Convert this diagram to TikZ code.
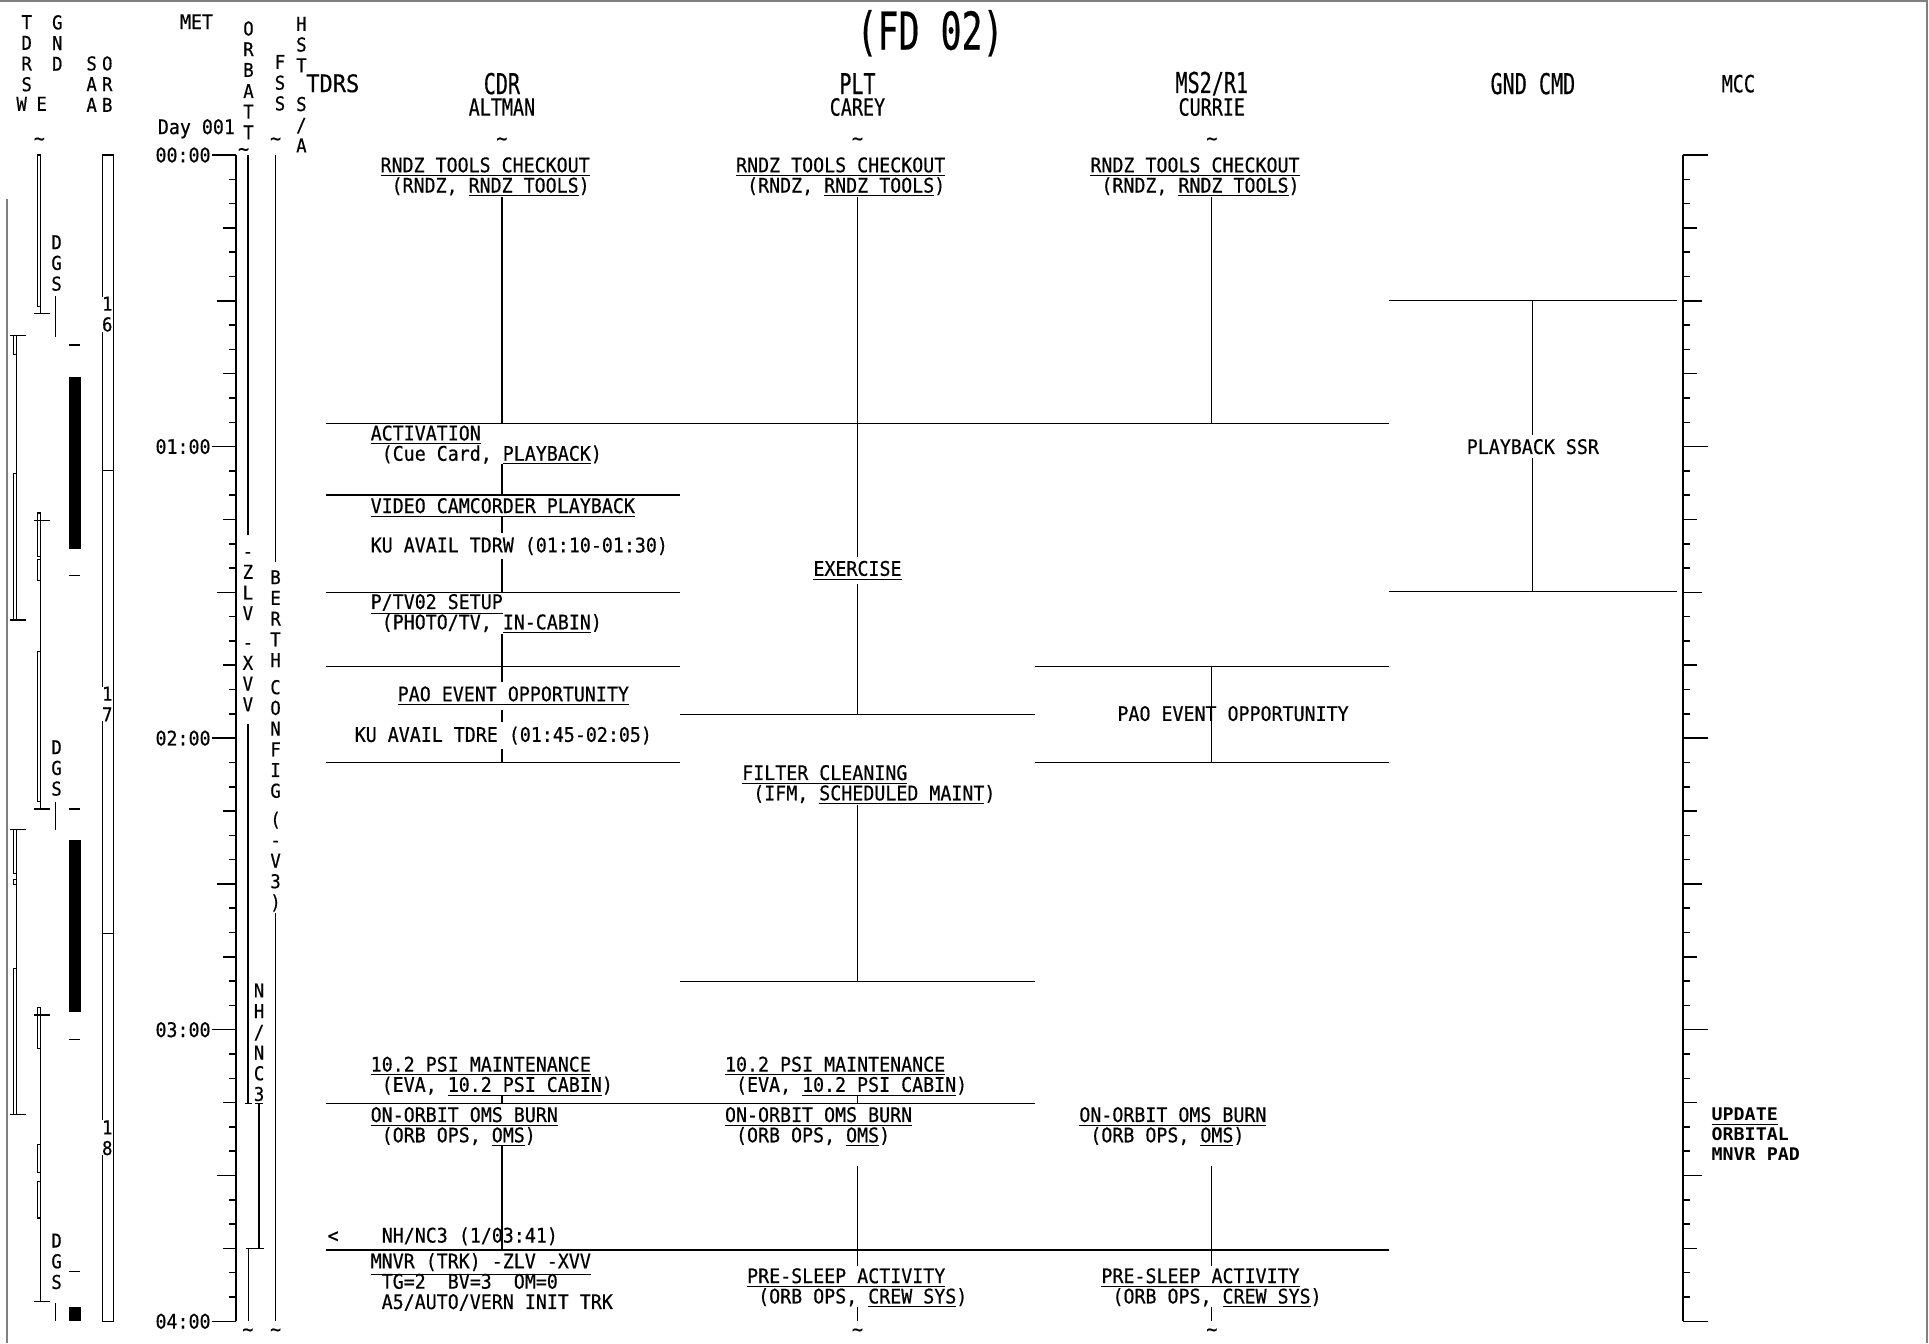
\documentclass[tikz,border=0pt]{standalone}
\usepackage{fontspec}
\usetikzlibrary{positioning}
\newfontfamily\bodyfont{DejaVu Sans Mono}[FakeStretch=0.91,FakeBold=0.5]
\newfontfamily\headfont{DejaVu Sans Mono}[FakeStretch=0.70,FakeBold=0.4]
\newfontfamily\namefont{DejaVu Sans Mono}[FakeStretch=0.78,FakeBold=0.4]
\newfontfamily\titlefont{DejaVu Sans Mono}[FakeStretch=0.67,FakeBold=0.4]
\newfontfamily\padfont{DejaVu Sans Mono}[FakeStretch=1.05]
\newcommand{\fbody}{\bodyfont\fontsize{9.8pt}{9.9pt}\selectfont}
\newcommand{\fvert}{\bodyfont\fontsize{9.3pt}{10.1pt}\selectfont}
\newcommand{\fhead}{\headfont\fontsize{14pt}{14pt}\selectfont}
\newcommand{\fname}{\namefont\fontsize{11.5pt}{12pt}\selectfont}
\newcommand{\ftdrs}{\bodyfont\fontsize{11.8pt}{12pt}\selectfont}
\newcommand{\ftitle}{\titlefont\fontsize{25.4pt}{26pt}\selectfont}
\newcommand{\fpad}{\padfont\bfseries\fontsize{8.5pt}{9.6pt}\selectfont}
\newcommand{\ul}[1]{\underline{#1}}
\newcommand{\sq}{\textasciitilde}
% activity: name, x, baseline y, first line, second line
\newcommand{\act}[5]{\node[txt] (#1) at (#2,#3) {#4};
  \node[txt] (#1s) at ([xshift=5.37pt,yshift=-9.9pt]#1.base west) {#5}}
\newcommand{\orbtick}[3]{\draw[strip] (#1,#3) -- (#2,#3)}

\begin{document}
\begin{tikzpicture}[x=0.6pt,y=-0.6pt,
    txt/.style={inner sep=0pt,font=\fbody,anchor=base west},
    txtw/.style={txt,fill=white,inner xsep=1pt,inner ysep=2pt,xshift=-1pt},
    vlab/.style={inner sep=0pt,font=\fvert,anchor=north,align=center},
    hourlab/.style={inner sep=0pt,font=\fbody,anchor=east},
    squig/.style={inner sep=0pt,font=\fbody},
    actline/.style={line width=0.55pt},
    axisline/.style={line width=0.75pt},
    strip/.style={line width=0.55pt},
    frame/.style={draw=gray,line width=1pt}]
\useasboundingbox (0,0) rectangle (1568,1092);

\draw[frame] (0,1) -- (1566.5,1) -- (1566.5,1092);
\draw[frame] (6,162) -- (6,1092);

% headings
\node[font=\ftitle] (fd) at (756,27) {(FD 02)};
\node[font=\fhead] (cdr) at (408,68) {CDR};
\node[font=\fname] (cdrn) at (408,87) {ALTMAN};
\node[font=\fhead] (plt) at (697,68) {PLT};
\node[font=\fname] (pltn) at (697,87) {CAREY};
\node[font=\fhead] (ms) at (985,68) {MS2/R1};
\node[font=\fname] (msn) at (985,87) {CURRIE};
\node[font=\fhead] (gnd) at (1246,68) {GND CMD};
\node[font=\fname] (mcc) at (1413,68) {MCC};
\node[font=\ftdrs,inner sep=0pt] (tdrs) at (270.5,67.7) {TDRS};
\node[txt] (met) at (146,23.6) {MET};
\node[txt] (day) at (128,109) {Day 001};

\node[vlab] (hw) at (21.7,12) {T\\D\\R\\S};
\node[vlab] (hw2) at (17.6,78.4) {W};
\node[vlab] (he) at (33.9,78.4) {E};
\node[vlab] (hg) at (46.6,12) {G\\N\\D};
\node[vlab] (hs) at (74.5,45.4) {S\\A\\A};
\node[vlab] (ho) at (87.2,45.4) {O\\R\\B};
\node[vlab] (hat) at (202,17) {O\\R\\B};
\node[vlab] (hat2) at (202,68) {A\\T\\T};
\node[vlab] (hf) at (227.6,44.4) {F\\S\\S};
\node[vlab] (hh) at (245,13.4) {H\\S\\T};
\node[vlab] (hh2) at (245,78.4) {S\\/\\A};
\foreach \sx in {32,224,408,697,985}
  \node[squig] at (\sx,115) {\sq};
\node[squig] (attsq) at (198,123.5) {\sq};
\foreach \sx in {201.5,224,697,985}
  \node[squig] at (\sx,1083) {\sq};

% MET and MCC scales
\draw[axisline] (192,126) -- (192,1074);
\draw[axisline] (1368,126) -- (1368,1074);
\foreach \i in {0,...,48}{
  \pgfmathsetmacro{\ty}{126+19.75*\i}
  \pgfmathtruncatemacro{\ta}{mod(\i,12)}
  \pgfmathtruncatemacro{\tb}{mod(\i,6)}
  \pgfmathtruncatemacro{\tc}{mod(\i,3)}
  \ifnum\ta=0 \def\tlen{20}\else\ifnum\tb=0 \def\tlen{15.4}\else
    \ifnum\tc=0 \def\tlen{11}\else\def\tlen{5.6}\fi\fi\fi
  \draw[axisline] (192-\tlen,\ty) -- (192,\ty);
  \draw[axisline] (1368,\ty) -- (1368+\tlen,\ty);
}
\foreach \h/\lab in {0/00:00,1/01:00,2/02:00,3/03:00,4/04:00}
  \node[hourlab] (h\h) at (171.5,126+237*\h) {\lab};

% TDRS W
\orbtick{8}{21}{273};
\draw[strip] (10.8,273) rectangle (13.5,288);
\draw[strip] (13.5,288) -- (13.5,385);
\draw[strip] (10.8,385) rectangle (13.5,504);
\orbtick{8}{21}{504};
\orbtick{8}{21}{674};
\draw[strip] (10.8,674) rectangle (13.5,710);
\draw[strip] (10.8,715) rectangle (13.5,719);
\draw[strip] (13.5,710) -- (13.5,787);
\draw[strip] (10.8,787) rectangle (13.5,906);
\orbtick{8}{21}{906};
% TDRS E
\draw[strip] (30.3,126) rectangle (33.1,249);
\draw[strip] (33.1,249) -- (33.1,254.6);
\orbtick{27.6}{40.6}{254.6};
\draw[strip] (30.3,417) rectangle (33.1,452);
\orbtick{27.6}{40.6}{423};
\draw[strip] (33.1,452) -- (33.1,454.6);
\draw[strip] (30.3,454.6) rectangle (33.1,471.5);
\draw[strip] (33.1,471.5) -- (33.1,529.7);
\draw[strip] (30.3,529.7) rectangle (33.1,651.7);
\draw[strip] (33.1,651.7) -- (33.1,657.6);
\orbtick{27.6}{40.6}{657.6};
\draw[strip] (30.3,819) rectangle (33.1,852);
\orbtick{27.6}{40.6}{825};
\draw[strip] (33.1,852) -- (33.1,1058);
\draw[strip] (30.3,930) rectangle (33.1,953);
\draw[strip] (30.3,960.5) rectangle (33.1,990);
\orbtick{27.6}{40.6}{1058};
% GND
\node[vlab] (dgs1) at (46,190.9) {D\\G\\S};
\node[vlab] (dgs2) at (46,601.4) {D\\G\\S};
\node[vlab] (dgs3) at (46,1002.4) {D\\G\\S};
\draw[strip] (45.3,240.6) -- (45.3,274);
\draw[strip] (45.3,651.7) -- (45.3,674.7);
\draw[strip] (45.3,1059) -- (45.3,1074);
% SAA
\foreach \sy in {280.4,468,657.6,844.7,1033.7}
  \orbtick{56}{65}{\sy};
\fill (56.1,306.5) rectangle (65.9,446);
\fill (56.1,682.8) rectangle (65.9,822.4);
\fill (56.1,1062) rectangle (65.9,1074);
% ORB
\draw[strip] (83.5,126) rectangle (92.1,1074);
\orbtick{83.5}{92.1}{382.6};
\orbtick{83.5}{92.1}{758.7};
\node[vlab,fill=white] (o16) at (87.2,240.9) {1\\6};
\node[vlab,fill=white] (o17) at (87.2,557.9) {1\\7};
\node[vlab,fill=white] (o18) at (87.2,910.4) {1\\8};

% ORB ATT
\draw[axisline] (201.5,126) -- (201.5,435);
\node[vlab] (zlv) at (201.5,448.4) {-\\Z\\L\\V};
\node[vlab] (xvv) at (201.5,522.4) {-\\X\\V\\V};
\draw[axisline] (201.5,588.6) -- (201.5,897);
\orbtick{199}{205}{897};
\node[vlab] (nhnc) at (210.6,799.1) {N\\H\\/\\N\\C\\3};
\orbtick{207.5}{214}{897};
\draw[axisline] (210.6,897) -- (210.6,1015);
\orbtick{200}{214.6}{1015};
\draw[axisline] (201.9,1015) -- (201.9,1074);
% FSS
\draw[axisline] (224,126) -- (224,457);
\node[vlab] (berth) at (224,463.2) {B\\E\\R\\T\\H};
\node[vlab] (config) at (224,552.4) {C\\O\\N\\F\\I\\G};
\node[vlab] (vthree) at (224,659.4) {(\\-\\V\\3\\)};
\draw[axisline] (224,742) -- (224,1074);

% CDR
\act{c1}{309}{140}{\ul{RNDZ TOOLS CHECKOUT}}{(RNDZ, \ul{RNDZ TOOLS})};
\draw[actline] (408,160) -- (408,344);
\act{c2}{301}{358}{\ul{ACTIVATION}}{(Cue Card, \ul{PLAYBACK})};
\draw[actline] (408,377) -- (408,402.4);
\draw[actline] (408,420) -- (408,481.8);
\node[txt] (c3) at (301,417) {\ul{VIDEO CAMCORDER PLAYBACK}};
\node[txtw] (c4) at (301,449) {KU AVAIL TDRW (01:10-01:30)};
\act{c5}{301}{495}{\ul{P/TV02 SETUP}}{(PHOTO/TV, \ul{IN-CABIN})};
\draw[actline] (408,515) -- (408,541.9);
\draw[actline] (408,541.9) -- (408,619.7);
\node[txtw] (c6) at (323,570) {\ul{PAO EVENT OPPORTUNITY}};
\node[txtw] (c7) at (288,603) {KU AVAIL TDRE (01:45-02:05)};
\act{c8}{301}{871}{\ul{10.2 PSI MAINTENANCE}}{(EVA, \ul{10.2 PSI CABIN})};
\draw[actline] (408,890) -- (408,897);
\act{c9}{301}{912}{\ul{ON-ORBIT OMS BURN}}{(ORB OPS, \ul{OMS})};
\draw[actline] (408,931) -- (408,1016);
\node[txt] (lt) at (266,1010) {<};
\node[txt] (nh) at (310,1010) {NH/NC3 (1/03:41)};
\act{c10}{301}{1031}{\ul{MNVR (TRK) -ZLV -XVV}}{TG=2~ BV=3~ OM=0};
\node[txt] (c10t) at ([yshift=-9.9pt]c10s.base west) {A5/AUTO/VERN INIT TRK};

% PLT
\act{p1}{598}{140}{\ul{RNDZ TOOLS CHECKOUT}}{(RNDZ, \ul{RNDZ TOOLS})};
\draw[actline] (697,160) -- (697,580.7);
\node[txtw,anchor=base,xshift=1pt] (p2) at (697,468) {\ul{EXERCISE}};
\act{p3}{603}{634}{\ul{FILTER CLEANING}}{(IFM, \ul{SCHEDULED MAINT})};
\draw[actline] (697,654) -- (697,798);
\act{p4}{589}{871}{\ul{10.2 PSI MAINTENANCE}}{(EVA, \ul{10.2 PSI CABIN})};
\draw[actline] (697,890) -- (697,897);
\act{p5}{589}{912}{\ul{ON-ORBIT OMS BURN}}{(ORB OPS, \ul{OMS})};
\draw[actline] (697,948) -- (697,1029);
\act{p6}{607}{1043}{\ul{PRE-SLEEP ACTIVITY}}{(ORB OPS, \ul{CREW SYS})};
\draw[actline] (697,1062) -- (697,1074);

% MS2/R1
\act{m1}{886}{140}{\ul{RNDZ TOOLS CHECKOUT}}{(RNDZ, \ul{RNDZ TOOLS})};
\draw[actline] (985,160) -- (985,344);
\draw[actline] (985,541.9) -- (985,619.7);
\node[txt] (m2) at (908,586) {PAO EVENT OPPORTUNITY};
\act{m3}{877}{912}{\ul{ON-ORBIT OMS BURN}}{(ORB OPS, \ul{OMS})};
\draw[actline] (985,948) -- (985,1029);
\act{m4}{895}{1043}{\ul{PRE-SLEEP ACTIVITY}}{(ORB OPS, \ul{CREW SYS})};
\draw[actline] (985,1062) -- (985,1074);

% GND CMD
\draw[actline] (1246,244) -- (1246,481);
\node[txtw,anchor=base,xshift=1pt] (g1) at (1246,369) {PLAYBACK SSR};

% MCC
\node[inner sep=0pt,font=\fpad,anchor=north west,align=left] (pad) at (1391,900.5)
  {\ul{UPDATE}\\ORBITAL\\MNVR PAD};

% activity boundaries
\draw[actline] (265,344) -- (1129,344);
\draw[actline] (265,402.4) -- (553,402.4);
\draw[actline] (265,481.8) -- (553,481.8);
\draw[actline] (265,541.9) -- (553,541.9);
\draw[actline] (265,619.7) -- (553,619.7);
\draw[actline] (553,580.7) -- (841,580.7);
\draw[actline] (841,541.9) -- (1129,541.9);
\draw[actline] (841,619.7) -- (1129,619.7);
\draw[actline] (553,798) -- (841,798);
\draw[actline] (265,897) -- (841,897);
\draw[actline] (265,1016) -- (1129,1016);
\draw[actline] (1129,244) -- (1363,244);
\draw[actline] (1129,481) -- (1363,481);
\end{tikzpicture}
\end{document}
